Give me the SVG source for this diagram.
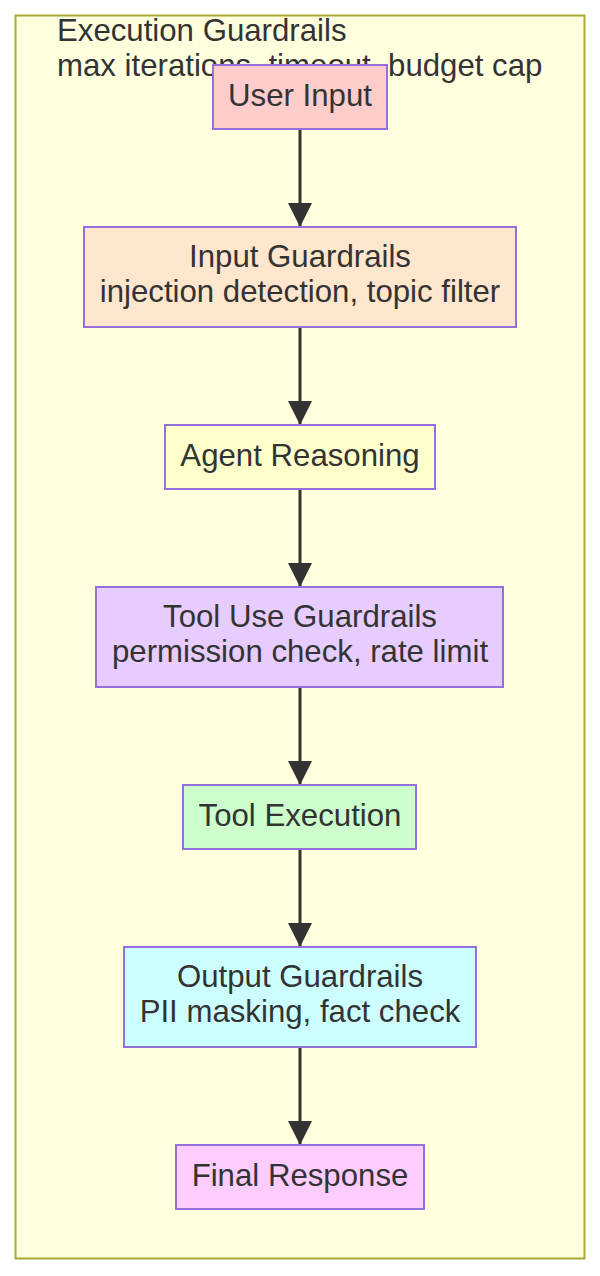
<svg xmlns="http://www.w3.org/2000/svg" width="600" height="1276" viewBox="0 0 600 1276">
<style>
.node rect{stroke:#9370DB;stroke-width:2}
text{font-family:"Liberation Sans",Arial,sans-serif;font-size:31.2px;fill:#333}
.c{text-anchor:middle}
.edge{stroke:#333;stroke-width:3;fill:none}
</style>
<defs>
<marker id="ah" markerUnits="userSpaceOnUse" markerWidth="26" markerHeight="26" refX="24" refY="12" orient="auto">
<path d="M0,0 L24,12 L0,24 Z" fill="#333"/>
</marker>
</defs>
<g id="cluster">
<rect x="15.5" y="15.5" width="569" height="1243" fill="#ffffde" stroke="#aaaa33" stroke-width="2"/>
<text x="57" y="41">Execution Guardrails</text>
<text x="57" y="76">max iterations, timeout, budget cap</text>
</g>
<g id="edges">
<path class="edge" d="M300,129 L300,227" marker-end="url(#ah)"/>
<path class="edge" d="M300,327 L300,425" marker-end="url(#ah)"/>
<path class="edge" d="M300,489 L300,587" marker-end="url(#ah)"/>
<path class="edge" d="M300,687 L300,785" marker-end="url(#ah)"/>
<path class="edge" d="M300,849 L300,947" marker-end="url(#ah)"/>
<path class="edge" d="M300,1047 L300,1145" marker-end="url(#ah)"/>
</g>
<g id="userInput" class="node">
<rect x="213" y="65" width="174" height="64" fill="#ffcccc"/>
<text class="c" x="300" y="106">User Input</text>
</g>
<g id="inputGuardrails" class="node">
<rect x="84" y="227" width="432" height="100" fill="#ffe6cc"/>
<text class="c" x="300" y="267">Input Guardrails</text>
<text class="c" x="300" y="302">injection detection, topic filter</text>
</g>
<g id="agentReasoning" class="node">
<rect x="165" y="425" width="270" height="64" fill="#ffffcc"/>
<text class="c" x="300" y="466">Agent Reasoning</text>
</g>
<g id="toolUseGuardrails" class="node">
<rect x="96" y="587" width="407" height="100" fill="#e6ccff"/>
<text class="c" x="300" y="627">Tool Use Guardrails</text>
<text class="c" x="300" y="662">permission check, rate limit</text>
</g>
<g id="toolExecution" class="node">
<rect x="183" y="785" width="233" height="64" fill="#ccffcc"/>
<text class="c" x="300" y="826">Tool Execution</text>
</g>
<g id="outputGuardrails" class="node">
<rect x="124" y="947" width="352" height="100" fill="#ccffff"/>
<text class="c" x="300" y="987">Output Guardrails</text>
<text class="c" x="300" y="1022">PII masking, fact check</text>
</g>
<g id="finalResponse" class="node">
<rect x="176" y="1145" width="248" height="64" fill="#ffccff"/>
<text class="c" x="300" y="1186">Final Response</text>
</g>
</svg>
